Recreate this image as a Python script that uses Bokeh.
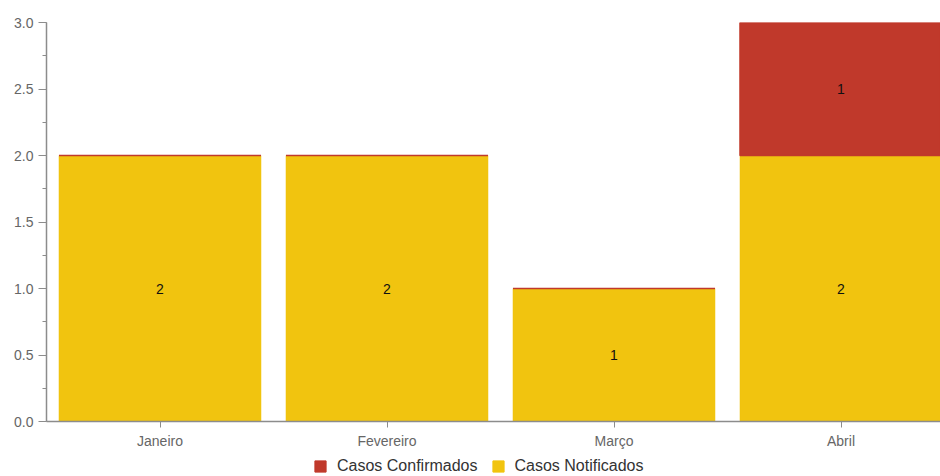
from bokeh.plotting import figure
from bokeh.layouts import column
from bokeh.models import (ColumnDataSource, Range1d, FixedTicker, SingleIntervalTicker,
                          PrintfTickFormatter, Legend, LegendItem)
from bokeh.core.properties import value
from bokeh.embed import file_html
from bokeh.resources import INLINE

# ---- data ----
months = ["Janeiro", "Fevereiro", "Março", "Abril"]
notificados = [2, 2, 1, 2]
confirmados = [0, 0, 0, 1]
series_names = ["Casos Confirmados", "Casos Notificados"]
y_ticks_interval = 0.5

YELLOW = "#F1C40F"
RED = "#C0392B"
FONT = "Liberation Sans"

xpos = [i + 0.5 for i in range(len(months))]
tops_n = list(notificados)
tops_c = [n + c for n, c in zip(notificados, confirmados)]

src = ColumnDataSource(dict(x=xpos, n=notificados, c=confirmados,
                            bot=[0] * len(months), top_n=tops_n, top_c=tops_c))

p = figure(width=940, height=453, output_backend="svg", toolbar_location=None,
           x_range=Range1d(0, 894 / 227), y_range=Range1d(0, 3),
           min_border_left=46, min_border_right=0, min_border_top=22, min_border_bottom=32)

p.outline_line_color = None
p.xgrid.visible = False
p.ygrid.ticker = FixedTicker(ticks=[3])
p.ygrid.grid_line_color = "#8c8c8c"
p.ygrid.grid_line_width = 1.5
p.ygrid.level = "overlay"

W = 0.89
rn = p.vbar(x="x", bottom="bot", top="top_n", width=W, source=src,
            fill_color=YELLOW, line_color=YELLOW, line_width=0.5)
rc = p.vbar(x="x", bottom="top_n", top="top_c", width=W, source=src,
            fill_color=RED, line_color=RED, line_width=1.5)

# labels for non-zero segments
lx, ly, lt = [], [], []
for x, n, c in zip(xpos, notificados, confirmados):
    if n > 0:
        lx.append(x); ly.append(n / 2); lt.append(str(n))
    if c > 0:
        lx.append(x); ly.append(n + c / 2); lt.append(str(c))
lsrc = ColumnDataSource(dict(x=lx, y=ly, t=lt))
p.text(x="x", y="y", text="t", source=lsrc, text_font=value(FONT),
       text_font_size="14px", text_align="center", text_baseline="middle",
       text_color="#111111")

# axes
for ax in (p.xaxis[0], p.yaxis[0]):
    ax.axis_line_color = "#8c8c8c"
    ax.axis_line_width = 1.5
    ax.major_tick_line_color = "#8c8c8c"
    ax.minor_tick_line_color = "#8c8c8c"
    ax.major_label_text_font = FONT
    ax.major_label_text_font_size = "14px"
    ax.major_label_text_color = "#666666"
    ax.major_tick_in = 0
    ax.minor_tick_in = 0

p.xaxis.ticker = FixedTicker(ticks=xpos)
p.xaxis.major_label_overrides = {x: m for x, m in zip(xpos, months)}
p.xaxis.major_tick_out = 6
p.xaxis.major_label_standoff = 5

p.yaxis.ticker = SingleIntervalTicker(interval=y_ticks_interval, num_minor_ticks=2)
p.yaxis.formatter = PrintfTickFormatter(format="%.1f")
p.yaxis.major_tick_out = 8
p.yaxis.minor_tick_out = 4
p.yaxis.major_label_standoff = 5

# ---- legend strip below the chart ----
lg = figure(width=940, height=23, output_backend="svg", toolbar_location=None,
            x_range=Range1d(0, 1), y_range=Range1d(0, 1),
            min_border_left=0, min_border_right=0, min_border_top=0, min_border_bottom=0)
lg.axis.visible = False
lg.grid.visible = False
lg.outline_line_color = None
lr_c = lg.vbar(x="x", bottom="top_n", top="top_c", width=W, source=src,
               fill_color=RED, line_color=RED, visible=False)
lr_n = lg.vbar(x="x", bottom="bot", top="top_n", width=W, source=src,
               fill_color=YELLOW, line_color=YELLOW, visible=False)

legend = Legend(items=[LegendItem(label=series_names[0], renderers=[lr_c]),
                       LegendItem(label=series_names[1], renderers=[lr_n])],
                orientation="horizontal", location=(267, 1),
                padding=0, margin=0, spacing=13, label_standoff=10,
                glyph_width=14, glyph_height=14, label_height=14,
                label_text_font=FONT, label_text_font_size="16px",
                label_text_color="#333333",
                background_fill_alpha=0, border_line_color=None)
lg.add_layout(legend, "center")

layout = column(p, lg, spacing=0)
open("out.html", "w").write(file_html(layout, INLINE))
